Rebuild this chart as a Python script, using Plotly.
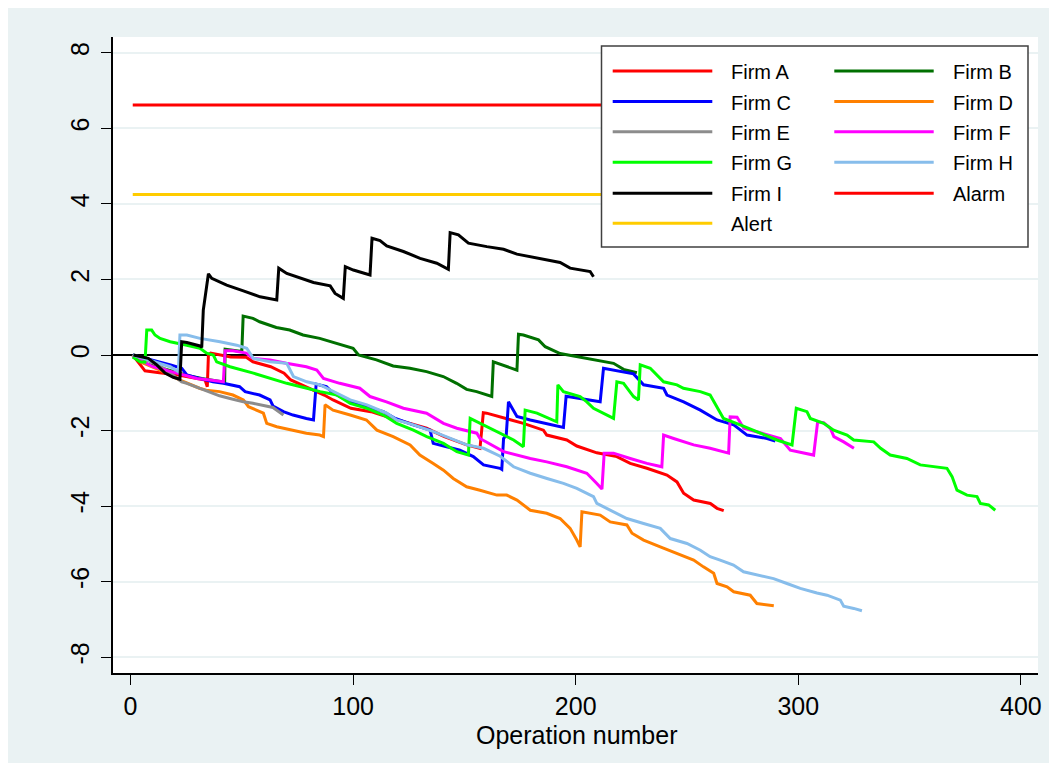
import plotly.graph_objects as go

# ---------------- data ----------------
firm_a_x = [1, 5, 6.5, 13, 21.5, 33.5, 34.5, 35, 36, 45, 52, 55, 63, 69, 72, 87, 91, 99, 108, 115, 126, 133, 141, 151, 157, 158.5, 160, 169, 176.5, 185.5, 187, 196, 200.5, 209.5, 218.5, 224.5, 232, 241, 245.5, 248.5, 253, 260.5, 263.5, 266.5]
firm_a_y = [0, -0.31, -0.42, -0.47, -0.53, -0.66, -0.84, 0.0, 0.05, -0.05, -0.06, -0.18, -0.31, -0.48, -0.66, -1.06, -1.19, -1.41, -1.50, -1.63, -1.81, -1.94, -2.16, -2.38, -2.47, -1.53, -1.54, -1.68, -1.81, -1.99, -2.12, -2.25, -2.41, -2.59, -2.69, -2.87, -3.0, -3.18, -3.36, -3.66, -3.84, -3.93, -4.06, -4.12]

firm_b_x = [1, 3.5, 8, 14, 20, 26, 32, 38, 42.3, 42.5, 50, 50.6, 55, 58, 65.5, 71.5, 77.5, 85, 91, 100, 102.4, 110.5, 118, 125.5, 133, 140.5, 146.5, 151, 155.5, 161.6, 162.3, 163, 173.6, 174.3, 176.5, 183.3, 186.3, 193, 202, 209.5, 217, 221.5, 227.5]
firm_b_y = [0, -0.15, -0.25, -0.35, -0.45, -0.55, -0.62, -0.68, -0.72, 0.15, 0.09, 1.03, 0.97, 0.88, 0.73, 0.66, 0.53, 0.44, 0.33, 0.18, 0.0, -0.13, -0.29, -0.35, -0.44, -0.57, -0.75, -0.91, -0.97, -1.09, -1.10, -0.18, -0.40, 0.55, 0.53, 0.40, 0.22, 0.04, -0.06, -0.15, -0.22, -0.38, -0.47]

firm_c_x = [1, 10, 18, 23, 25.3, 31, 37, 41.7, 49, 51.5, 58, 62.7, 64, 68.7, 73, 79, 82.2, 83.4, 85, 88, 91, 95.6, 103, 113.6, 119, 127, 134.6, 136, 142, 148, 154, 158.6, 166, 166.8, 167.6, 168.8, 169.8, 171.3, 173.6, 179.6, 187, 194.5, 195.7, 199, 205, 211, 212.5, 217, 226, 230.5, 239.5, 241, 248.5, 256, 263.5, 271, 277, 286, 289.7]
firm_c_y = [0, -0.13, -0.26, -0.35, -0.53, -0.62, -0.71, -0.75, -0.84, -0.97, -1.06, -1.19, -1.35, -1.50, -1.59, -1.68, -1.72, -0.77, -0.79, -0.84, -1.01, -1.15, -1.32, -1.50, -1.68, -1.85, -1.99, -2.34, -2.43, -2.52, -2.69, -2.91, -3.0, -3.03, -2.21, -2.12, -1.24, -1.41, -1.63, -1.72, -1.81, -1.92, -1.09, -1.12, -1.19, -1.24, -0.35, -0.40, -0.50, -0.79, -0.88, -1.06, -1.24, -1.46, -1.72, -1.85, -2.12, -2.21, -2.28]

firm_d_x = [1, 4.7, 13.3, 22, 31, 34, 40, 46, 50.7, 53, 59.7, 61.2, 65.7, 73, 79, 85, 86.7, 87.4, 91, 98.7, 106, 110.7, 118, 125.6, 130, 136, 140.6, 145, 151, 157, 164.6, 169, 173.6, 179.6, 187, 193, 197.5, 200.5, 202, 202.8, 206.5, 211, 215.5, 223, 225.3, 230.5, 238, 245.5, 253, 257.4, 262, 263.5, 268, 271, 278.4, 281.4, 289]
firm_d_y = [0, -0.19, -0.40, -0.66, -0.88, -0.93, -0.97, -1.06, -1.19, -1.37, -1.54, -1.81, -1.90, -1.99, -2.07, -2.12, -2.16, -1.32, -1.46, -1.59, -1.72, -1.99, -2.16, -2.38, -2.65, -2.87, -3.05, -3.27, -3.49, -3.58, -3.71, -3.71, -3.84, -4.11, -4.19, -4.33, -4.59, -4.90, -5.08, -4.15, -4.19, -4.24, -4.42, -4.50, -4.72, -4.90, -5.08, -5.25, -5.43, -5.61, -5.78, -6.05, -6.14, -6.27, -6.36, -6.58, -6.64]

firm_e_x = [1, 8, 15, 23, 25.3, 31, 40, 44.7, 50.7, 55, 61, 64, 68.7]
firm_e_y = [0, -0.15, -0.35, -0.71, -0.75, -0.88, -1.08, -1.15, -1.24, -1.28, -1.34, -1.39, -1.59]

firm_f_x = [1, 4.3, 10, 17.8, 23.7, 29.8, 35.7, 41.7, 42.5, 46, 52, 55, 62.7, 70, 79, 83.7, 86.7, 94, 103, 107.6, 115, 122.6, 133, 140.6, 146.6, 155.6, 157, 167.6, 179.6, 187, 196, 205, 209.5, 211.8, 212.8, 217, 224.5, 232, 238.7, 239.5, 244, 253, 260.4, 268.7, 269.4, 272.5, 275.5, 281.4, 286, 292, 296.4, 306.9, 308.7, 311.4, 314.4, 316, 320.4, 325]
firm_f_y = [-0.05, -0.13, -0.31, -0.44, -0.53, -0.62, -0.66, -0.71, 0.11, 0.11, 0.05, -0.09, -0.13, -0.22, -0.31, -0.40, -0.62, -0.75, -0.88, -1.10, -1.24, -1.41, -1.54, -1.81, -1.94, -2.07, -2.21, -2.56, -2.74, -2.83, -2.96, -3.13, -3.40, -3.55, -2.60, -2.60, -2.74, -2.87, -2.96, -2.12, -2.21, -2.38, -2.47, -2.60, -1.64, -1.65, -1.94, -2.03, -2.12, -2.21, -2.52, -2.65, -1.77, -1.79, -1.94, -2.16, -2.30, -2.47]

firm_g_x = [1, 4.3, 6.5, 7.3, 9.5, 11, 13.3, 17.8, 25.3, 31.2, 34.2, 37.2, 38.7, 44.7, 55.2, 62.7, 70.2, 79.2, 85.2, 92.7, 98.7, 106.2, 113.6, 119.6, 127.1, 133.1, 140.6, 146.6, 151.8, 152.6, 157.1, 161.6, 166.1, 172.1, 176.5, 177.3, 182.6, 191.5, 192, 194.5, 202, 205, 208, 217, 218.5, 221.5, 226, 228.2, 229, 233.5, 239.5, 245.5, 248.4, 256, 260.4, 263.5, 266.4, 273.9, 282.9, 290.4, 297.2, 299.1, 303.9, 305.4, 311.4, 315.9, 321.9, 324.9, 333.9, 337, 341.3, 348.8, 354.8, 366.8, 369.1, 371.3, 375.8, 380.3, 381.8, 385.5, 388.5]
firm_g_y = [-0.05, -0.18, -0.19, 0.66, 0.66, 0.53, 0.44, 0.35, 0.26, 0.18, 0.05, 0.0, -0.18, -0.31, -0.48, -0.62, -0.75, -0.88, -0.97, -1.06, -1.28, -1.41, -1.59, -1.81, -1.99, -2.16, -2.34, -2.56, -2.65, -1.68, -1.81, -1.94, -2.07, -2.25, -2.43, -1.46, -1.54, -1.77, -0.79, -0.97, -1.10, -1.24, -1.41, -1.68, -0.71, -0.75, -1.10, -1.19, -0.26, -0.35, -0.71, -0.79, -0.88, -0.97, -1.06, -1.37, -1.68, -1.85, -2.07, -2.25, -2.38, -1.41, -1.50, -1.68, -1.81, -1.99, -2.12, -2.25, -2.30, -2.47, -2.65, -2.74, -2.91, -3.0, -3.22, -3.58, -3.71, -3.75, -3.93, -3.97, -4.11]

firm_h_x = [1, 10.2, 17.8, 21.5, 22.2, 25.3, 31.2, 40.2, 47.7, 52.2, 55.2, 62.7, 70.2, 73.2, 79.2, 85.2, 91.1, 98.7, 106.2, 115.1, 119.6, 127.1, 136.1, 145.1, 151.1, 158.6, 166.1, 172.1, 179.6, 187.1, 194.5, 200.5, 208, 209.5, 215.5, 223, 230.5, 238, 242.5, 250, 256, 260.4, 264.9, 270.9, 275.4, 283, 288.9, 294.9, 300.9, 308.4, 312.9, 318.9, 320.4, 324.9, 328.6]
firm_h_y = [0, -0.18, -0.31, -0.44, 0.53, 0.53, 0.44, 0.35, 0.26, 0.18, -0.09, -0.18, -0.22, -0.57, -0.71, -0.79, -0.97, -1.19, -1.32, -1.54, -1.72, -1.85, -2.03, -2.25, -2.38, -2.47, -2.68, -2.96, -3.13, -3.27, -3.40, -3.53, -3.75, -3.93, -4.11, -4.33, -4.46, -4.59, -4.86, -4.99, -5.17, -5.34, -5.43, -5.56, -5.74, -5.85, -5.92, -6.05, -6.18, -6.30, -6.36, -6.49, -6.65, -6.71, -6.77]

firm_i_x = [1.3, 8, 11.8, 15.5, 19.2, 22.2, 23, 25.3, 31.2, 32, 32.7, 35, 36.5, 43.2, 50.7, 58.2, 65.7, 66.6, 70.2, 76.2, 82.2, 89.7, 91.9, 95.6, 96.5, 100.1, 107.6, 108.5, 112.1, 115.1, 122.6, 130.1, 137.6, 142.8, 143.6, 147.3, 151.8, 160.1, 167.6, 173.6, 184, 193, 197.5, 206.5, 208]
firm_i_y = [0, -0.09, -0.26, -0.48, -0.59, -0.64, 0.35, 0.33, 0.24, 0.2, 1.19, 2.15, 2.03, 1.85, 1.70, 1.54, 1.46, 2.30, 2.16, 2.03, 1.92, 1.83, 1.63, 1.50, 2.34, 2.25, 2.12, 3.09, 3.03, 2.89, 2.74, 2.56, 2.43, 2.27, 3.24, 3.18, 2.96, 2.87, 2.80, 2.67, 2.56, 2.45, 2.30, 2.21, 2.07]

limit_x = [1, 390]
alarm_level = 6.62
alert_level = 4.25

series_names = ["Firm A", "Firm B", "Firm C", "Firm D", "Firm E",
                "Firm F", "Firm G", "Firm H", "Firm I"]
series_x = [firm_a_x, firm_b_x, firm_c_x, firm_d_x, firm_e_x,
            firm_f_x, firm_g_x, firm_h_x, firm_i_x]
series_y = [firm_a_y, firm_b_y, firm_c_y, firm_d_y, firm_e_y,
            firm_f_y, firm_g_y, firm_h_y, firm_i_y]
series_colors = ["#FF0000", "#007000", "#0000FF", "#FF8000", "#8C8C8C",
                 "#FF00FF", "#00FF00", "#87BDEB", "#000000"]

x_ticks = [0, 100, 200, 300, 400]
y_ticks = [-8, -6, -4, -2, 0, 2, 4, 6, 8]
y_tick_labels = ["-8", "-6", "-4", "-2", "0", "2", "4", "6", "8"]
x_title = "Operation number"

# ---------------- layout geometry (screen pixels) ----------------
OFF = 8                         # page body margin
W, H = 1041, 755                # figure size
PL, PR, PT, PB = 113, 1038, 37, 673   # plot-area edges on screen


def px(xp):
    return (xp - PL) / (PR - PL)


def py(yp):
    return (PB - yp) / (PB - PT)


FONT = "Liberation Sans, Arial, sans-serif"

fig = go.Figure()

fig.add_trace(go.Scatter(x=limit_x, y=[alarm_level] * 2, mode="lines",
                         line=dict(color="#FF0000", width=3), name="Alarm"))
fig.add_trace(go.Scatter(x=limit_x, y=[alert_level] * 2, mode="lines",
                         line=dict(color="#FFCC00", width=3), name="Alert"))

for nm, xs, ys, col in zip(series_names, series_x, series_y, series_colors):
    fig.add_trace(go.Scatter(x=xs, y=ys, mode="lines", name=nm,
                             line=dict(color=col, width=3)))

shapes = []
# manual legend
LX0, LX1, LY0, LY1 = 601.5, 1028, 46, 247
shapes.append(dict(type="rect", xref="paper", yref="paper",
                   x0=px(LX0), x1=px(LX1), y0=py(LY1), y1=py(LY0),
                   line=dict(color="#404040", width=1.5), fillcolor="white",
                   layer="above"))
legend_items = [(n, c) for n, c in zip(series_names, series_colors)]
legend_items += [("Alarm", "#FF0000"), ("Alert", "#FFCC00")]
row_y = [71, 101.6, 131.8, 162.3, 193.2, 223.3]
col_line = [(612.7, 712.3), (834.3, 933.7)]
col_text = [729.3, 950.7]
annotations = []
for i, (name, col) in enumerate(legend_items):
    r, c = divmod(i, 2)
    yy = row_y[r]
    shapes.append(dict(type="line", xref="paper", yref="paper",
                       x0=px(col_line[c][0]), x1=px(col_line[c][1]),
                       y0=py(yy), y1=py(yy),
                       line=dict(color=col, width=3), layer="above"))
    annotations.append(dict(xref="paper", yref="paper", x=px(col_text[c]),
                            y=py(yy + 1), text=name, showarrow=False,
                            xanchor="left", yanchor="middle",
                            font=dict(family=FONT, size=20, color="black")))

# x-axis title
annotations.append(dict(xref="paper", yref="paper", x=px(576.5), y=py(735),
                        text=x_title, showarrow=False, xanchor="center",
                        yanchor="middle",
                        font=dict(family=FONT, size=25, color="black")))

fig.update_layout(
    width=W, height=H,
    margin=dict(l=PL - OFF, r=OFF + W - PR, t=PT - OFF, b=OFF + H - PB,
                autoexpand=False),
    paper_bgcolor="#EAF2F3", plot_bgcolor="white",
    showlegend=False,
    shapes=shapes, annotations=annotations,
    font=dict(family=FONT, color="black"),
)
fig.update_xaxes(range=[-7.87, 407.7], tickvals=x_ticks, ticks="outside",
                 ticklen=10, tickwidth=1.2, tickcolor="black",
                 showline=True, linecolor="black", linewidth=1.5,
                 showgrid=False, zeroline=False,
                 tickfont=dict(family=FONT, size=25, color="black"),
                 automargin=False)
fig.update_yaxes(range=[-8.42, 8.42], tickvals=y_ticks, ticktext=y_tick_labels,
                 ticks="outside",
                 ticklen=10, tickwidth=1.2, tickcolor="black",
                 showline=True, linecolor="black", linewidth=1.5,
                 showgrid=True, gridcolor="#EAF2F3", gridwidth=1.5,
                 zeroline=True, zerolinecolor="black", zerolinewidth=2,
                 tickangle=-90, ticklabelstandoff=2,
                 tickfont=dict(family=FONT, size=25, color="black"),
                 automargin=False)

fig.write_html("out.html")
